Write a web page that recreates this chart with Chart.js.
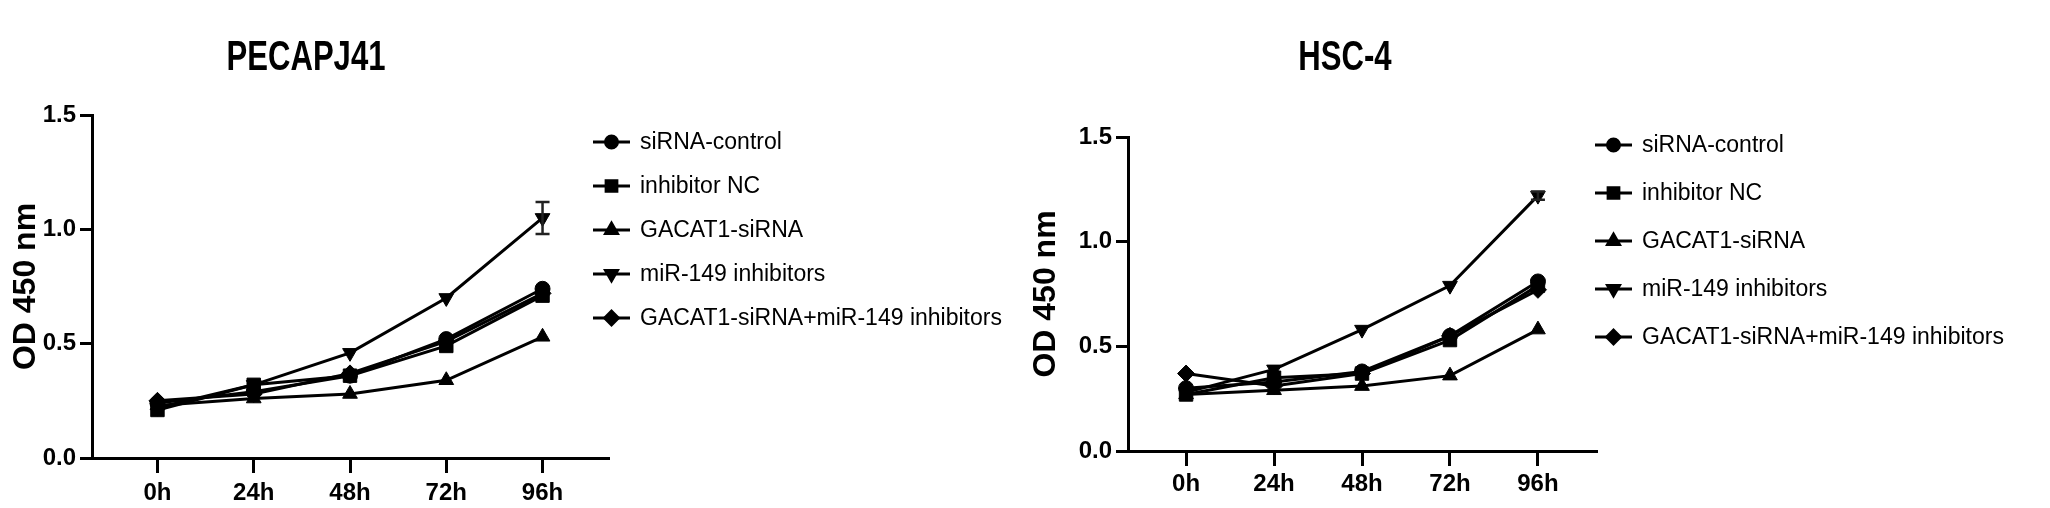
<!DOCTYPE html>
<html><head><meta charset="utf-8">
<script src="https://cdn.jsdelivr.net/npm/chart.js@4.4.1/dist/chart.umd.min.js"></script>
<style>
html,body{margin:0;padding:0;background:#fff;}
#wrap{position:relative;width:2050px;height:508px;overflow:hidden;}
.c{position:absolute;top:0;width:1025px;height:508px;}
</style></head><body>
<div id="wrap">
<div class="c" style="left:0"><canvas id="c1" width="1025" height="508"></canvas></div>
<div class="c" style="left:1025px"><canvas id="c2" width="1025" height="508"></canvas></div>
</div>
<script>
// ---------- DATA ----------
const categories = ['0h', '24h', '48h', '72h', '96h'];
const seriesNames = ['siRNA-control', 'inhibitor NC', 'GACAT1-siRNA', 'miR-149 inhibitors', 'GACAT1-siRNA+miR-149 inhibitors'];
const yTickValues = [0, 0.5, 1.0, 1.5];
const yAxisTitle = 'OD 450 nm';

const titleLeft = 'PECAPJ41';
const pecaSiControl = [0.24, 0.29, 0.36, 0.52, 0.74];
const pecaInhibitorNC = [0.21, 0.32, 0.36, 0.49, 0.71];
const pecaGacatSi = [0.23, 0.26, 0.28, 0.34, 0.53];
const pecaMiRInhib = [0.22, 0.32, 0.46, 0.70, 1.05];
const pecaCombo = [0.25, 0.28, 0.37, 0.51, 0.72];
const pecaMiRInhibErr = [0, 0, 0, 0, 0.07];

const titleRight = 'HSC-4';
const hscSiControl = [0.30, 0.33, 0.38, 0.55, 0.81];
const hscInhibitorNC = [0.27, 0.35, 0.37, 0.53, 0.79];
const hscGacatSi = [0.27, 0.29, 0.31, 0.36, 0.58];
const hscMiRInhib = [0.28, 0.39, 0.58, 0.79, 1.22];
const hscCombo = [0.37, 0.31, 0.37, 0.55, 0.77];
const hscMiRInhibErr = [0, 0, 0, 0, 0.02];

// ---------- STYLES ----------
const markerStyles = [
  {pointStyle: 'circle', rot: 0, r: 7.5},
  {pointStyle: 'rect', rot: 0, r: 9.5},
  {pointStyle: 'triangle', rot: 0, r: 8.5},
  {pointStyle: 'triangle', rot: 180, r: 8.5},
  {pointStyle: 'rectRot', rot: 0, r: 8.5}
];

function buildChart(canvasId, title, seriesList, errList, L) {
  const datasets = seriesList.map((vals, i) => ({
    label: seriesNames[i],
    data: vals.map((v, j) => ({x: j, y: v})),
    errors: i === 3 ? errList : null,
    borderColor: '#000',
    backgroundColor: '#000',
    borderWidth: 3,
    pointStyle: markerStyles[i].pointStyle,
    pointRotation: markerStyles[i].rot,
    pointRadius: markerStyles[i].r,
    pointBorderWidth: 1,
    tension: 0,
    fill: false
  }));

  const errorBars = {
    id: 'errorBars',
    afterDatasetsDraw(chart) {
      const ctx = chart.ctx, ys = chart.scales.y, xs = chart.scales.x;
      chart.data.datasets.forEach(ds => {
        if (!ds.errors) return;
        ds.data.forEach((p, j) => {
          const e = ds.errors[j];
          if (!e) return;
          const px = xs.getPixelForValue(p.x);
          const y1 = ys.getPixelForValue(p.y + e), y2 = ys.getPixelForValue(p.y - e);
          ctx.save();
          ctx.strokeStyle = '#222'; ctx.lineWidth = 2.5;
          ctx.beginPath();
          ctx.moveTo(px, y1); ctx.lineTo(px, y2);
          ctx.moveTo(px - 7, y1); ctx.lineTo(px + 7, y1);
          ctx.moveTo(px - 7, y2); ctx.lineTo(px + 7, y2);
          ctx.stroke();
          ctx.restore();
        });
      });
    }
  };

  const legendAndTitle = {
    id: 'legendAndTitle',
    afterDraw(chart) {
      const ctx = chart.ctx;
      ctx.save();
      // title (condensed bold)
      ctx.fillStyle = '#000';
      ctx.font = 'bold ' + L.titleSize + 'px "Liberation Sans", Arial, sans-serif';
      ctx.textAlign = 'center';
      ctx.textBaseline = 'middle';
      ctx.save();
      ctx.translate(L.titleX, L.titleY);
      ctx.scale(L.titleSquash, 1);
      ctx.fillText(title, 0, 0);
      ctx.restore();
      // legend
      ctx.font = L.legendSize + 'px "Liberation Sans", Arial, sans-serif';
      ctx.textAlign = 'left';
      chart.data.datasets.forEach((ds, i) => {
        const y = L.legendY + i * L.legendStep;
        ctx.strokeStyle = '#000'; ctx.lineWidth = 3;
        ctx.beginPath();
        ctx.moveTo(L.legendX, y); ctx.lineTo(L.legendX + L.legendLine, y);
        ctx.stroke();
        ctx.fillStyle = '#000';
        Chart.helpers.drawPoint(ctx, {
          pointStyle: markerStyles[i].pointStyle,
          rotation: markerStyles[i].rot,
          radius: markerStyles[i].r * 0.8,
          borderWidth: 1
        }, L.legendX + L.legendLine / 2, y);
        ctx.fillStyle = '#000';
        ctx.fillText(ds.label, L.legendX + L.legendLine + L.legendGap, y + 1);
      });
      ctx.restore();
    }
  };

  return new Chart(document.getElementById(canvasId), {
    type: 'line',
    data: {datasets},
    options: {
      responsive: false,
      animation: false,
      devicePixelRatio: 1,
      layout: {padding: {left: 0, top: L.top, right: 1025 - L.right, bottom: 0}},
      plugins: {legend: {display: false}, title: {display: false}, tooltip: {enabled: false}},
      scales: {
        x: {
          type: 'linear',
          min: -L.xPad, max: 4 + L.xPad,
          afterBuildTicks: s => { s.ticks = categories.map((c, i) => ({value: i})); },
          afterFit: s => { s.height = 508 - L.bottom; },
          ticks: {
            callback: v => categories[v],
            color: '#000',
            font: {family: '"Liberation Sans", Arial, sans-serif', size: 24, weight: 'bold'},
            padding: L.xLabelPad,
            maxRotation: 0, autoSkip: false
          },
          grid: {display: true, drawOnChartArea: false, drawTicks: true, tickLength: 15, color: '#000', lineWidth: 3},
          border: {display: true, color: '#000', width: 3}
        },
        y: {
          type: 'linear',
          min: 0, max: 1.5,
          afterBuildTicks: s => { s.ticks = yTickValues.map(v => ({value: v})); },
          afterFit: s => { s.width = L.left; },
          ticks: {
            callback: v => v.toFixed(1),
            color: '#000',
            font: {family: '"Liberation Sans", Arial, sans-serif', size: 24, weight: 'bold'},
            padding: 4
          },
          title: {
            display: true, text: yAxisTitle, color: '#000',
            font: {family: '"Liberation Sans", Arial, sans-serif', size: 32, weight: 'bold'},
            padding: {top: L.yTitlePad, bottom: 0}
          },
          grid: {display: true, drawOnChartArea: false, drawTicks: true, tickLength: 12, color: '#000', lineWidth: 3},
          border: {display: true, color: '#000', width: 3}
        }
      }
    },
    plugins: [errorBars, legendAndTitle]
  });
}

buildChart('c1', titleLeft,
  [pecaSiControl, pecaInhibitorNC, pecaGacatSi, pecaMiRInhib, pecaCombo], pecaMiRInhibErr,
  {left: 92, right: 608, top: 115, bottom: 458, xPad: 0.68, xLabelPad: 6, yTitlePad: 7,
   titleX: 306, titleY: 58, titleSize: 42, titleSquash: 0.74,
   legendX: 593, legendY: 142, legendStep: 44, legendLine: 37, legendGap: 10, legendSize: 23});

buildChart('c2', titleRight,
  [hscSiControl, hscInhibitorNC, hscGacatSi, hscMiRInhib, hscCombo], hscMiRInhibErr,
  {left: 103, right: 571, top: 137, bottom: 451, xPad: 0.66, xLabelPad: 4, yTitlePad: 2,
   titleX: 320, titleY: 58, titleSize: 42, titleSquash: 0.74,
   legendX: 570, legendY: 145, legendStep: 48, legendLine: 37, legendGap: 10, legendSize: 23});
</script>
</body></html>
